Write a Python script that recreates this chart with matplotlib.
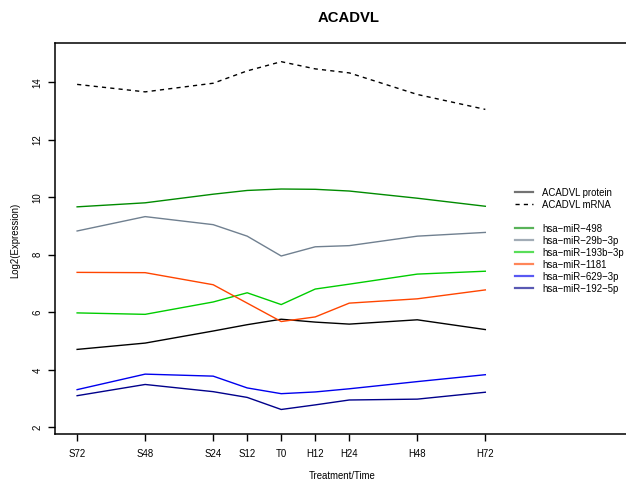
import matplotlib
matplotlib.use("Agg")
import matplotlib.pyplot as plt
from matplotlib.lines import Line2D

plt.rcParams['font.family'] = ['Liberation Sans', 'DejaVu Sans']

# time points (hours relative to T0) and their labels
hours = [-72, -48, -24, -12, 0, 12, 24, 48, 72]
time_labels = ["S72", "S48", "S24", "S12", "T0", "H12", "H24", "H48", "H72"]

# log2 expression per series
acadvl_protein = [4.71, 4.93, 5.35, 5.57, 5.76, 5.66, 5.59, 5.74, 5.40]
acadvl_mrna = [13.93, 13.67, 13.97, 14.40, 14.72, 14.47, 14.33, 13.58, 13.06]
mir_498 = [9.67, 9.81, 10.11, 10.24, 10.29, 10.28, 10.22, 9.97, 9.69]
mir_29b_3p = [8.83, 9.33, 9.05, 8.65, 7.96, 8.28, 8.32, 8.65, 8.78]
mir_193b_3p = [5.98, 5.93, 6.36, 6.68, 6.27, 6.81, 6.98, 7.33, 7.43]
mir_1181 = [7.39, 7.38, 6.96, 6.32, 5.68, 5.84, 6.32, 6.47, 6.78]
mir_629_3p = [3.31, 3.85, 3.78, 3.37, 3.17, 3.23, 3.34, 3.59, 3.83]
mir_192_5p = [3.10, 3.49, 3.24, 3.04, 2.62, 2.78, 2.95, 2.98, 3.22]

W, H = 626, 483
fig = plt.figure(figsize=(W / 100, H / 100), dpi=100)

# plot region in pixels; the right edge runs past the figure border
left_px, right_px, top_px, bottom_px = 55, 652, 43, 434
ax = fig.add_axes([left_px / W, 1 - bottom_px / H,
                   (right_px - left_px) / W, (bottom_px - top_px) / H])

ax.plot(hours, acadvl_protein, color="black", lw=1.0)
ax.plot(hours, acadvl_mrna, color="black", lw=1.0, dashes=(3, 3))
mirnas = [
    ("hsa\u2212miR\u2212498", mir_498, "#008B00"),
    ("hsa\u2212miR\u221229b\u22123p", mir_29b_3p, "#708090"),
    ("hsa\u2212miR\u2212193b\u22123p", mir_193b_3p, "#00CD00"),
    ("hsa\u2212miR\u22121181", mir_1181, "#FF4500"),
    ("hsa\u2212miR\u2212629\u22123p", mir_629_3p, "#0000EE"),
    ("hsa\u2212miR\u2212192\u22125p", mir_192_5p, "#00008B"),
]
for name, vals, col in mirnas:
    ax.plot(hours, vals, color=col, lw=1.0)

ax.set_xlim(-79.8, 130.8)
ax.set_ylim(1.767, 15.37)
ax.set_xticks(hours)
ax.set_xticklabels(time_labels)
ax.set_yticks([2, 4, 6, 8, 10, 12, 14])
ax.set_yticklabels(["2", "4", "6", "8", "10", "12", "14"], rotation=90, va="center")
ax.tick_params(axis="both", length=5, width=1.0, labelsize=6.9, color="black")
ax.tick_params(axis="x", pad=6)
ax.tick_params(axis="y", pad=4)
ax.spines["right"].set_visible(False)
for s in ("left", "top", "bottom"):
    ax.spines[s].set_linewidth(1.1)

fig.text(349 / W, 1 - 18 / H, "ACADVL", ha="center", va="center",
         fontsize=10.7, fontweight="bold")
fig.text(342 / W, 1 - 476 / H, "Treatment/Time", ha="center", va="center",
         fontsize=6.9)
fig.text(15 / W, 1 - 240 / H, "Log2(Expression)", ha="center", va="center",
         fontsize=6.9, rotation=90)

# legend: protein/mRNA, a blank row, then the miRNAs
handles = [
    Line2D([], [], color="black", lw=1.6, alpha=0.55),
    Line2D([], [], color="black", lw=1.0, dashes=(3, 3)),
    Line2D([], [], color="none"),
]
labels = ["ACADVL protein", "ACADVL mRNA", ""]
for name, vals, col in mirnas:
    handles.append(Line2D([], [], color=col, lw=1.6, alpha=0.65))
    labels.append(name)
fig.legend(handles, labels, loc="upper left",
           bbox_to_anchor=(515 / W, 1 - 187.5 / H), frameon=False,
           fontsize=6.9, handlelength=1.88, handletextpad=0.94,
           labelspacing=0.21, borderpad=0, borderaxespad=0)

fig.savefig("out.png", dpi=100)
